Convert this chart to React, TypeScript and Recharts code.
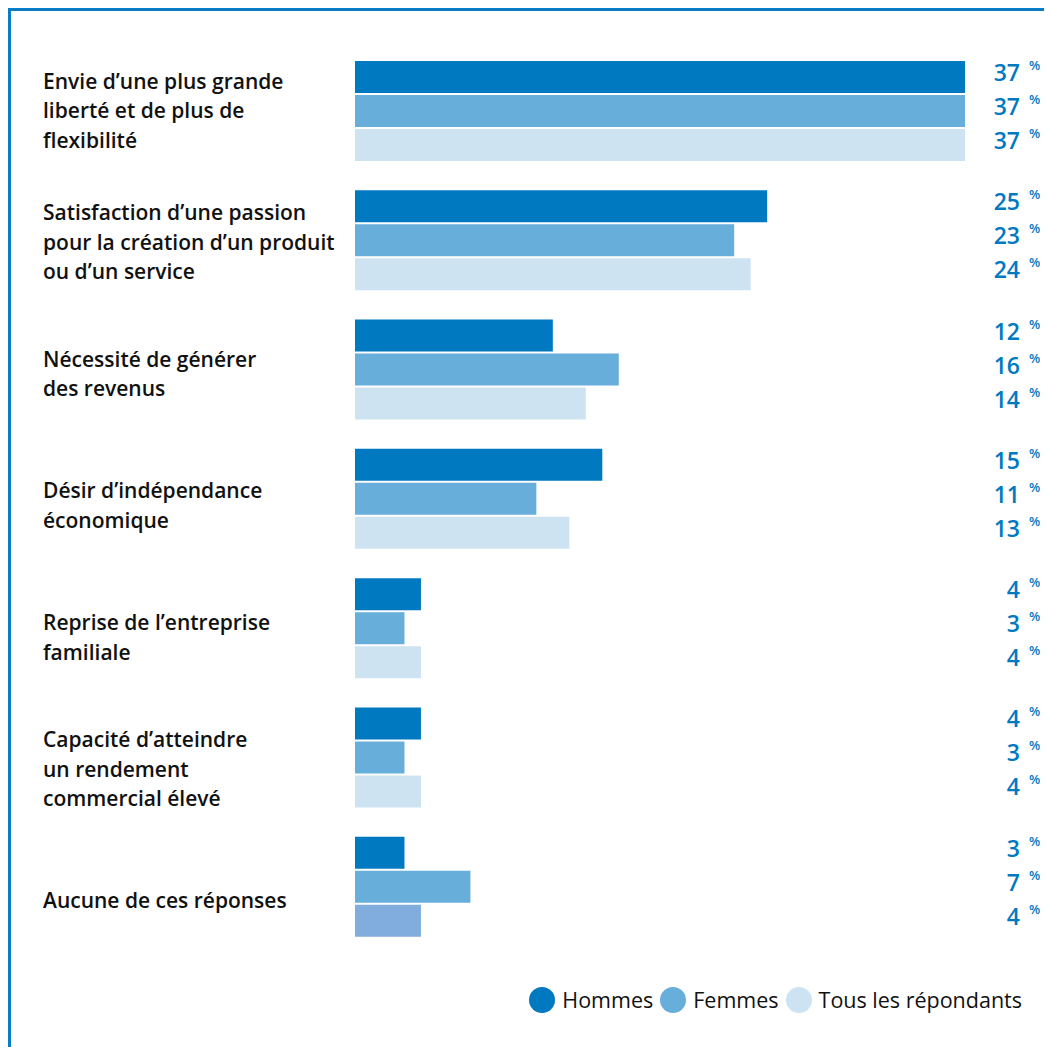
import { BarChart, Bar, XAxis, YAxis, Legend, LabelList, Cell } from 'recharts';

const categories = [
  'Envie d\u2019une plus grande\nliberté et de plus de\nflexibilité',
  'Satisfaction d\u2019une passion\npour la création d\u2019un produit\nou d\u2019un service',
  'Nécessité de générer\ndes revenus',
  'Désir d\u2019indépendance\néconomique',
  'Reprise de l\u2019entreprise\nfamiliale',
  'Capacité d\u2019atteindre\nun rendement\ncommercial élevé',
  'Aucune de ces réponses',
];

const hommes = [37, 25, 12, 15, 4, 4, 3];
const femmes = [37, 23, 16, 11, 3, 3, 7];
const tous = [37, 24, 14, 13, 4, 4, 4];

const series = [
  { key: 'hommes', name: 'Hommes', color: '#0079c1' },
  { key: 'femmes', name: 'Femmes', color: '#67aedb' },
  { key: 'tous', name: 'Tous les répondants', color: '#cde3f2' },
];

const data = categories.map((name, i) => ({
  name,
  hommes: hommes[i],
  femmes: femmes[i],
  tous: tous[i],
}));

const FONT = '"Open Sans", sans-serif';
const W = 1041;
const H = 1036;
const LABEL_X = 1009;

function CategoryTick(props: any) {
  const { y, payload, index } = props;
  const lines = String(payload.value).split('\n');
  const lh = 29.5;
  // labels drift slightly downward relative to the bar groups in the original
  const start = y - ((lines.length - 1) * lh) / 2 + 7.5 + (index ?? payload.index ?? 0) * 2.4;
  return (
    <text x={32} y={start} fill="#111" fontSize={21} fontWeight={600} fontFamily={FONT}>
      {lines.map((l, i) => (
        <tspan key={i} x={32} y={start + i * lh}>
          {l}
        </tspan>
      ))}
    </text>
  );
}

function ValueLabel(props: any) {
  const { y, height, value } = props;
  const cy = y + height / 2;
  return (
    <g>
      <text x={LABEL_X} y={cy + 4} textAnchor="end" fill="#0079c1" fontSize={23} fontWeight={600} fontFamily={FONT}>
        {value}
      </text>
      <text x={LABEL_X + 9} y={cy - 7} fill="#0079c1" fontSize={13} fontWeight={600} fontFamily={FONT}>
        %
      </text>
    </g>
  );
}

function LegendContent() {
  return (
    <div
      style={{
        height: 61,
        boxSizing: 'border-box',
        paddingTop: 36,
        paddingRight: 30,
        display: 'flex',
        justifyContent: 'flex-end',
        alignItems: 'center',
        fontFamily: FONT,
        fontSize: 21.5,
        color: '#111',
      }}
    >
      {series.map((s) => (
        <div key={s.key} style={{ display: 'flex', alignItems: 'center', marginLeft: 7 }}>
          <span
            style={{
              width: 26,
              height: 26,
              borderRadius: 13,
              background: s.color,
              display: 'inline-block',
              marginRight: 7,
            }}
          />
          <span>{s.name}</span>
        </div>
      ))}
    </div>
  );
}

export default function App() {
  return (
    <div
      style={{
        width: 1044,
        height: 1039,
        borderTop: '3px solid #0a7cc3',
        borderLeft: '3px solid #0a7cc3',
        boxSizing: 'border-box',
        background: '#fff',
      }}
    >
      <BarChart
        width={W}
        height={H}
        data={data}
        layout="vertical"
        margin={{ top: 35, right: 87, bottom: 35, left: 0 }}
        barSize={32}
        barGap={2}
      >
        <XAxis type="number" domain={[0, 37]} hide />
        <YAxis
          type="category"
          dataKey="name"
          width={344}
          axisLine={false}
          tickLine={false}
          tick={<CategoryTick />}
          interval={0}
        />
        <Legend
          verticalAlign="bottom"
          width={W}
          wrapperStyle={{ left: 0 }}
          content={<LegendContent />}
        />
        {series.map((s) => (
          <Bar key={s.key} dataKey={s.key} name={s.name} fill={s.color} isAnimationActive={false}>
            {s.key === 'tous' &&
              data.map((_, i) => (
                <Cell key={i} fill={i === data.length - 1 ? '#80addd' : s.color} />
              ))}
            <LabelList dataKey={s.key} content={<ValueLabel />} />
          </Bar>
        ))}
      </BarChart>
    </div>
  );
}
